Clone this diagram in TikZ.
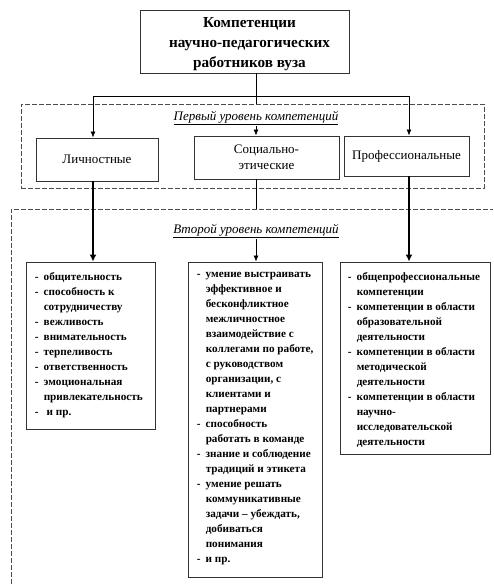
\documentclass[tikz,border=0pt]{standalone}
\usepackage{fontspec}
\setmainfont{Liberation Serif}
\usepackage{tikz}
\usetikzlibrary{shapes,arrows.meta,positioning}
\newcommand{\lstdash}{\makebox[9pt][l]{-}}
\newcommand{\lstind}{\hspace*{9pt}}

\begin{document}
\begin{tikzpicture}[x=1pt,y=-1pt,
  box/.style={draw=black!80, line width=0.9pt, rectangle, inner sep=0pt},
  frame/.style={draw=black!70, dash pattern=on 5pt off 2pt, line width=0.8pt},
  lvl/.style={font=\fontsize{13}{15}\selectfont\itshape, inner sep=1pt},
  lst/.style={anchor=north west, align=left, inner sep=0pt, font=\fontsize{11.2}{15}\selectfont\bfseries},
  thinarr/.style={draw, line width=0.8pt, -{Latex[length=6pt,width=5pt]}},
  thickarr/.style={draw, line width=2pt, -{Latex[length=7pt,width=7pt]}}]
\useasboundingbox (0,0) rectangle (493,584);

% top box
\node[box, minimum width=209, minimum height=63] (title) at (244.5,41.5) {};
\node[align=center, inner sep=0pt, font=\fontsize{15.2}{20}\selectfont\bfseries] (titletxt) at ([shift={(5,2.5)}]title.center) {Компетенции\\научно-педагогических\\работников вуза};
\coordinate (busL) at (93,96);
\coordinate (busM) at (256,96);
\coordinate (busR) at (409,96);
\draw[line width=0.8pt] (busM |- title.south) -- (busM);
\draw[line width=0.8pt] (busL) -- (busR);

% first level
\node[frame, minimum width=463, minimum height=84] (fr1) at (252.5,146) {};
\node[lvl] (lev1) at (256,118) {\underline{Первый уровень компетенций}};
\node[box, minimum width=122, minimum height=43, font=\fontsize{13}{16}\selectfont] (lich) at (97,159.5) {Личностные};
\node[box, minimum width=145, minimum height=43, align=center, font=\fontsize{13}{16}\selectfont] (soc) at (266.5,157.5) {Социально-\\этические};
\node[box, minimum width=125, minimum height=40, font=\fontsize{13}{16}\selectfont] (prof) at (406.5,156) {Профессиональные};
\draw[thinarr] (busL) -- (busL |- lich.north);
\draw[thinarr] (busR) -- (busR |- prof.north);
\draw[line width=0.8pt] (busM) -- (busM |- fr1.north);
\draw[thinarr] (lev1.south -| busM) -- (busM |- soc.north);

% second level
\coordinate (f2) at (11,209);
\draw[frame] (11,584) -- (f2) -- (493,209);
\node[lvl] (lev2) at (256,231) {\underline{Второй уровень компетенций}};
\node[box, minimum width=129, minimum height=167] (b1) at (90.5,345.5) {};
\node[box, minimum width=134, minimum height=315] (b2) at (255,419.5) {};
\node[box, minimum width=150, minimum height=192] (b3) at (415,358) {};
\draw[thickarr] (busL |- lich.south) -- (busL |- b1.north);
\draw[thickarr] (busR |- prof.south) -- (busR |- b3.north);
\draw[line width=0.8pt] (busM |- soc.south) -- (busM |- f2);
\draw[thinarr] (lev2.south -| busM) -- (busM |- b2.north);

% lists
\node[lst] (t1) at ([shift={(9,10.5)}]b1.north west) {%
\lstdash общительность\\
\lstdash способность к\\
\lstind сотрудничеству\\
\lstdash вежливость\\
\lstdash внимательность\\
\lstdash терпеливость\\
\lstdash ответственность\\
\lstdash эмоциональная\\
\lstind привлекательность\\
\lstdash\hspace{3pt}и пр.};
\node[lst] (t2) at ([shift={(9,10.5)}]b2.north west) {%
\lstdash умение выстраивать\\
\lstind эффективное и\\
\lstind бесконфликтное\\
\lstind межличностное\\
\lstind взаимодействие с\\
\lstind коллегами по работе,\\
\lstind с руководством\\
\lstind организации, с\\
\lstind клиентами и\\
\lstind партнерами\\
\lstdash способность\\
\lstind работать в команде\\
\lstdash знание и соблюдение\\
\lstind традиций и этикета\\
\lstdash умение решать\\
\lstind коммуникативные\\
\lstind задачи – убеждать,\\
\lstind добиваться\\
\lstind понимания\\
\lstdash и пр.};
\node[lst] (t3) at ([shift={(8,10.5)}]b3.north west) {%
\lstdash общепрофессиональные\\
\lstind компетенции\\
\lstdash компетенции в области\\
\lstind образовательной\\
\lstind деятельности\\
\lstdash компетенции в области\\
\lstind методической\\
\lstind деятельности\\
\lstdash компетенции в области\\
\lstind научно-\\
\lstind исследовательской\\
\lstind деятельности};
\end{tikzpicture}
\end{document}
